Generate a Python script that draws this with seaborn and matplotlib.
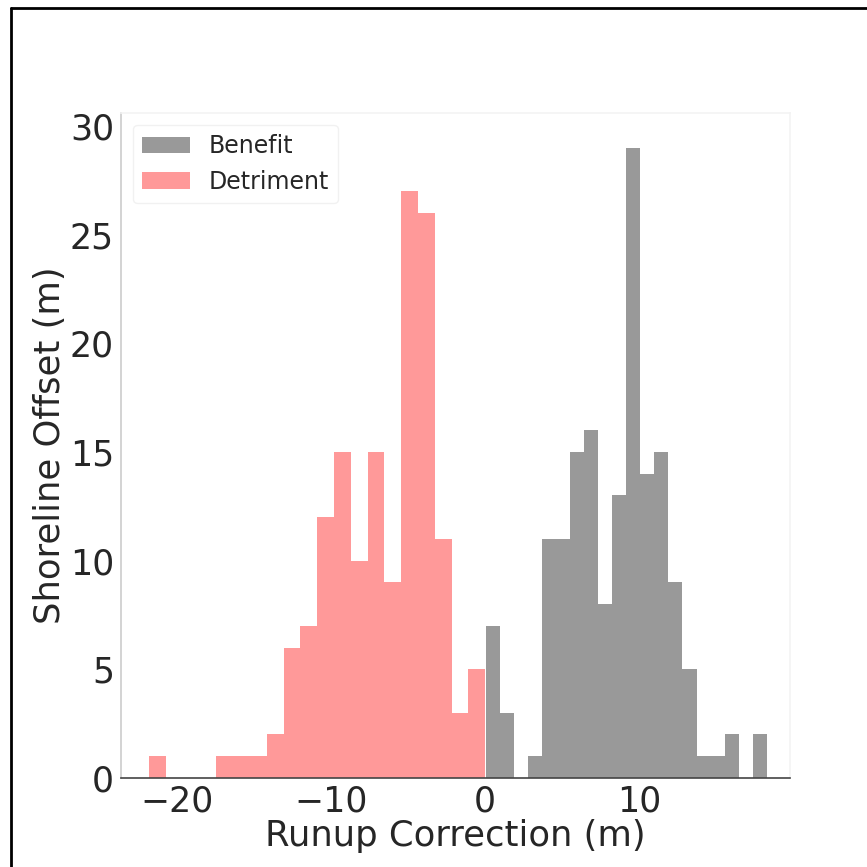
import numpy as np
import pandas as pd
import seaborn as sns
import matplotlib
matplotlib.use("Agg")
import matplotlib.pyplot as plt
from matplotlib.lines import Line2D
from matplotlib.patches import Patch

# ---- data (histogram counts, 20 bins each) ----
detriment_range = (-21.77, 0.03)
detriment_counts = [1, 0, 0, 0, 1, 1, 1, 2, 6, 7, 12, 15, 10, 15, 9, 27, 26, 11, 3, 5]
benefit_range = (0.08, 18.3)
benefit_counts = [7, 3, 0, 1, 11, 11, 15, 16, 8, 13, 29, 14, 15, 9, 5, 1, 1, 2, 0, 2]
series_labels = ["Benefit", "Detriment"]
x_label = "Runup Correction (m)"
y_label = "Shoreline Offset (m)"
x_ticks = [-20, -10, 0, 10]
y_ticks = [0, 5, 10, 15, 20, 25, 30]

def binned(rng, counts):
    edges = np.linspace(rng[0], rng[1], len(counts) + 1)
    centers = (edges[:-1] + edges[1:]) / 2
    # one observation per counted item, placed at its bin centre
    obs = np.repeat(centers, counts)
    return [float(e) for e in edges], pd.DataFrame({"x": obs})

sns.set_style("white")
plt.rcParams['font.family'] = ['DejaVu Sans']

fig = plt.figure(figsize=(8.67, 8.67), dpi=100)
ax = fig.add_axes([0.1396, 0.1027, 0.911 - 0.1396, 0.8697 - 0.1027])

b_edges, b_df = binned(benefit_range, benefit_counts)
d_edges, d_df = binned(detriment_range, detriment_counts)

gray = "#999999"
red = "#ff9999"
sns.histplot(data=b_df, x="x", bins=b_edges, ax=ax, color=gray,
             alpha=1, linewidth=0, element="bars", stat="count")
sns.histplot(data=d_df, x="x", bins=d_edges, ax=ax, color=red,
             alpha=1, linewidth=0, element="bars", stat="count")

ax.set_xlim(-23.6, 19.8)
ax.set_ylim(0, 30.6)
ax.set_xticks(x_ticks)
ax.set_xticklabels([f"{t}".replace("-", "\u2212") for t in x_ticks])
ax.set_yticks(y_ticks)
ax.tick_params(axis="both", labelsize=25, length=3, width=0.8, color="#bbbbbb", pad=2)
ax.set_xlabel(x_label, fontsize=25.5, labelpad=0)
ax.set_ylabel(y_label, fontsize=25.5, labelpad=2)

ax.spines["left"].set_color("#cccccc")
ax.spines["bottom"].set_color("#444444")
ax.spines["top"].set_color("#f3f3f3")
ax.spines["right"].set_color("#f3f3f3")
for s in ax.spines.values():
    s.set_linewidth(1.2)

handles = [Patch(facecolor=gray, edgecolor="none"), Patch(facecolor=red, edgecolor="none")]
leg = ax.legend(handles, series_labels, loc="upper left", fontsize=17,
                handlelength=2.0, handleheight=0.7, frameon=True,
                borderpad=0.4, labelspacing=0.5, handletextpad=0.8)
leg.get_frame().set_edgecolor("#eeeeee")
leg.get_frame().set_linewidth(1.0)

# outer black frame (top and left edges visible)
fig.add_artist(Line2D([11 / 867, 11 / 867], [0, 1 - 8 / 867], transform=fig.transFigure,
                      color="black", linewidth=2))
fig.add_artist(Line2D([11 / 867, 1], [1 - 8 / 867, 1 - 8 / 867], transform=fig.transFigure,
                      color="black", linewidth=2))

fig.savefig("out.png", dpi=100, facecolor="white")
